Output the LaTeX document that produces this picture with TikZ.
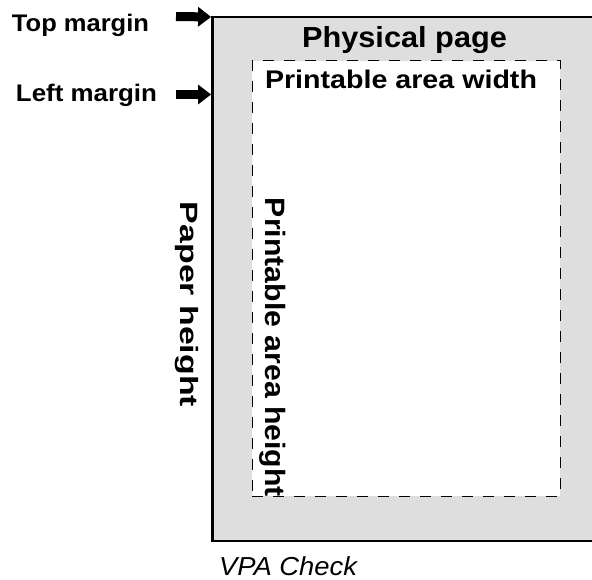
\documentclass[tikz,border=0pt]{standalone}
\usepackage{fontspec}
\usepackage{graphicx}
\setmainfont{Liberation Sans}
\usetikzlibrary{arrows.meta}

\definecolor{pagegray}{RGB}{222,222,222}

% text stretched to a given width, keeping its natural height
\newcommand{\wtext}[3]{\resizebox{#1pt}{\height}{\fontsize{#2}{#2}\selectfont #3}}

\tikzset{
  label/.style={inner sep=0pt, outer sep=0pt, font=\bfseries},
  bigarrow/.style={line width=9pt, -{Triangle[length=13pt,width=19pt]}},
  pagebox/.style={draw=black, line width=2.4pt, fill=pagegray, inner sep=0pt, outer sep=0pt, rectangle},
  areabox/.style={draw=black, line width=1pt, dash pattern=on 11pt off 10pt, fill=white, inner sep=0pt, outer sep=0pt, rectangle}
}

\begin{document}
\begin{tikzpicture}[x=1pt, y=-1pt]
  \useasboundingbox (0,0) rectangle (592,580);
  \clip (0,0) rectangle (592,580);

  % physical page and printable area
  \node[pagebox, minimum width=410pt, minimum height=524pt, anchor=north west] (page) at (212.6,17) {};
  \node[areabox, minimum width=308pt, minimum height=435pt, anchor=north west] (area) at (252.4,61) {};

  % headings inside the page
  \node[label, anchor=base west] (phys) at (302,48) {\wtext{205}{29}{Physical page}};
  \node[label, anchor=base west] (paw) at (265,88.5) {\wtext{272}{25.5}{Printable area width}};

  % rotated dimension labels
  \node[label, rotate=-90, anchor=base west] (ph) at (180.5,202) {\wtext{205}{25}{Paper height}};
  \node[label, rotate=-90, anchor=base west] (pah) at (265.5,198) {\wtext{299}{28}{Printable area height}};

  % margin labels with their arrows
  \node[label, anchor=base west] (tm) at (12,32) {\wtext{137}{24}{Top margin}};
  \node[label, anchor=base west] (lm) at (16,102) {\wtext{141}{24}{Left margin}};

  \coordinate (ttail) at (176,16.5);
  \coordinate (ltail) at (176,94.5);
  \draw[bigarrow, shorten >=1.5pt] (ttail) -- (page.north west);
  \draw[bigarrow, shorten >=1.5pt] (ltail) -- (ltail -| page.west);

  % caption
  \node[inner sep=0pt, outer sep=0pt, anchor=base west] (cap) at (219,575) {\wtext{138}{26}{\itshape VPA Check}};
\end{tikzpicture}
\end{document}
